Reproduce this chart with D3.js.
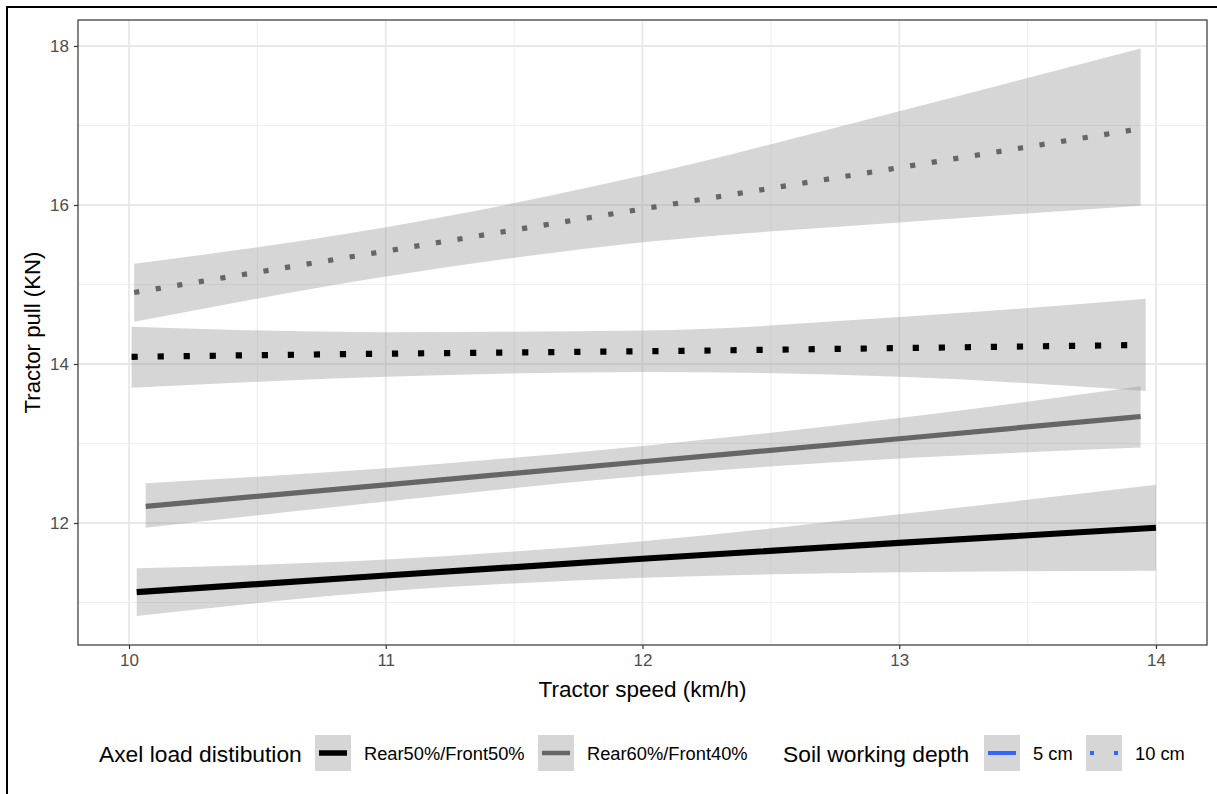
<!DOCTYPE html>
<html>
<head>
<meta charset="utf-8">
<script src="https://cdn.jsdelivr.net/npm/d3@7"></script>
<style>
  body { margin: 0; background: #fff; }
  svg { display: block; font-family: "Liberation Sans", Arial, sans-serif; }
</style>
</head>
<body>
<svg id="chart"></svg>
<script>
const width = 1217;
const height = 794;
const margin = { left: 78, right: 10, top: 20, bottom: 149 };

const xTicks = [10, 11, 12, 13, 14];
const yTicks = [12, 14, 16, 18];
const xMinor = [10.5, 11.5, 12.5, 13.5];
const yMinor = [11, 13, 15, 17];

const loadGroups = ["Rear50%/Front50%", "Rear60%/Front40%"];
const depthGroups = ["5 cm", "10 cm"];

// Rear50/Front50, 5 cm
const r50d5Speed = [10.03, 11, 12, 13, 14.0];
const r50d5Fit   = [11.13, 11.34, 11.55, 11.75, 11.94];
const r50d5Low   = [10.83, 11.14, 11.31, 11.38, 11.40];
const r50d5High  = [11.43, 11.54, 11.77, 12.11, 12.48];

// Rear60/Front40, 5 cm
const r60d5Speed = [10.065, 11, 12, 13, 13.94];
const r60d5Fit   = [12.21, 12.48, 12.77, 13.06, 13.34];
const r60d5Low   = [11.94, 12.27, 12.59, 12.81, 12.95];
const r60d5High  = [12.50, 12.69, 12.97, 13.32, 13.72];

// Rear50/Front50, 10 cm
const r50d10Speed = [10.01, 11, 12, 13, 13.96];
const r50d10Fit   = [14.09, 14.13, 14.16, 14.20, 14.24];
const r50d10Low   = [13.70, 13.84, 13.90, 13.84, 13.66];
const r50d10High  = [14.47, 14.40, 14.42, 14.59, 14.82];

// Rear60/Front40, 10 cm
const r60d10Speed = [10.02, 11, 12, 13, 13.94];
const r60d10Fit   = [14.90, 15.42, 15.95, 16.47, 16.96];
const r60d10Low   = [14.53, 15.10, 15.53, 15.78, 15.99];
const r60d10High  = [15.26, 15.72, 16.37, 17.18, 17.97];

const series = [
  { load: 0, depth: 0, speed: r50d5Speed, fit: r50d5Fit, low: r50d5Low, high: r50d5High },
  { load: 1, depth: 0, speed: r60d5Speed, fit: r60d5Fit, low: r60d5Low, high: r60d5High },
  { load: 0, depth: 1, speed: r50d10Speed, fit: r50d10Fit, low: r50d10Low, high: r50d10High },
  { load: 1, depth: 1, speed: r60d10Speed, fit: r60d10Fit, low: r60d10Low, high: r60d10High }
];

const loadColor = ["#000000", "#666666"];
const loadWidth = [6.2, 5.2];

const svg = d3.select("#chart")
  .attr("width", width)
  .attr("height", height);

// outer frame
svg.append("rect")
  .attr("x", 7).attr("y", 7)
  .attr("width", width + 10).attr("height", height + 10)
  .attr("fill", "none").attr("stroke", "#000").attr("stroke-width", 2);

const x = d3.scaleLinear().domain([10, 14]).range([129, 1156]);
const y = d3.scaleLinear().domain([12, 18]).range([523, 46]);

const panel = { x0: margin.left, x1: width - margin.right, y0: margin.top, y1: height - margin.bottom };

const g = svg.append("g");

// grid
g.selectAll(".ymin").data(yMinor).enter().append("line")
  .attr("x1", panel.x0).attr("x2", panel.x1)
  .attr("y1", d => y(d)).attr("y2", d => y(d))
  .attr("stroke", "#ebebeb").attr("stroke-width", 0.9);
g.selectAll(".xmin").data(xMinor).enter().append("line")
  .attr("y1", panel.y0).attr("y2", panel.y1)
  .attr("x1", d => x(d)).attr("x2", d => x(d))
  .attr("stroke", "#ebebeb").attr("stroke-width", 0.9);
g.selectAll(".ymaj").data(yTicks).enter().append("line")
  .attr("x1", panel.x0).attr("x2", panel.x1)
  .attr("y1", d => y(d)).attr("y2", d => y(d))
  .attr("stroke", "#e8e8e8").attr("stroke-width", 1.8);
g.selectAll(".xmaj").data(xTicks).enter().append("line")
  .attr("y1", panel.y0).attr("y2", panel.y1)
  .attr("x1", d => x(d)).attr("x2", d => x(d))
  .attr("stroke", "#e8e8e8").attr("stroke-width", 1.8);

const area = d3.area()
  .x(d => x(d[0])).y0(d => y(d[1])).y1(d => y(d[2]))
  .curve(d3.curveMonotoneX);
const line = d3.line()
  .x(d => x(d[0])).y(d => y(d[1]))
  .curve(d3.curveMonotoneX);

series.forEach(s => {
  const pts = s.speed.map((v, i) => [v, s.low[i], s.high[i], s.fit[i]]);
  g.append("path")
    .attr("d", area(pts))
    .attr("fill", "#999999").attr("fill-opacity", 0.4);
  const w = loadWidth[s.load];
  g.append("path")
    .attr("d", line(pts.map(p => [p[0], p[3]])))
    .attr("fill", "none")
    .attr("stroke", loadColor[s.load])
    .attr("stroke-width", w)
    .attr("stroke-dasharray", s.depth === 1 ? `${w} ${w * 3.2}` : null);
});

// panel border
svg.append("rect")
  .attr("x", panel.x0).attr("y", panel.y0)
  .attr("width", panel.x1 - panel.x0).attr("height", panel.y1 - panel.y0)
  .attr("fill", "none").attr("stroke", "#333333").attr("stroke-width", 1.2);

// axes
const xAxis = svg.append("g")
  .attr("transform", `translate(0,${panel.y1})`)
  .call(d3.axisBottom(x).tickValues(xTicks).tickSize(4).tickPadding(5).tickFormat(d3.format("d")));
const yAxis = svg.append("g")
  .attr("transform", `translate(${panel.x0},0)`)
  .call(d3.axisLeft(y).tickValues(yTicks).tickSize(4).tickPadding(5).tickFormat(d3.format("d")));
[xAxis, yAxis].forEach(a => {
  a.select(".domain").remove();
  a.selectAll(".tick line").attr("stroke", "#333333").attr("stroke-width", 1.2);
  a.selectAll(".tick text").attr("fill", "#4d4d4d")
    .style("font-size", "17px").style("font-family", "Liberation Sans, Arial, sans-serif");
});

svg.append("text")
  .attr("x", (panel.x0 + panel.x1) / 2).attr("y", 697)
  .attr("text-anchor", "middle").attr("font-size", 22.5)
  .text("Tractor speed (km/h)");
svg.append("text")
  .attr("transform", `translate(40,${(panel.y0 + panel.y1) / 2}) rotate(-90)`)
  .attr("text-anchor", "middle").attr("font-size", 22.2)
  .text("Tractor pull (KN)");

// legend
const leg = svg.append("g");
const keyY = 735, keySize = 36;
leg.append("text").attr("x", 99).attr("y", 762).attr("font-size", 22.8)
  .text("Axel load distibution");
const loadKeys = [315, 538];
loadGroups.forEach((name, i) => {
  leg.append("rect").attr("x", loadKeys[i]).attr("y", keyY)
    .attr("width", keySize).attr("height", keySize).attr("fill", "#d6d6d6");
  leg.append("line")
    .attr("x1", loadKeys[i] + 4).attr("x2", loadKeys[i] + keySize - 4)
    .attr("y1", keyY + keySize / 2).attr("y2", keyY + keySize / 2)
    .attr("stroke", loadColor[i]).attr("stroke-width", i === 0 ? 5.5 : 4.5);
  leg.append("text").attr("x", loadKeys[i] + 49).attr("y", 760)
    .attr("font-size", 18.3).text(name);
});

leg.append("text").attr("x", 783).attr("y", 762).attr("font-size", 22.8)
  .text("Soil working depth");
const depthKeys = [984, 1086];
depthGroups.forEach((name, i) => {
  leg.append("rect").attr("x", depthKeys[i]).attr("y", keyY)
    .attr("width", keySize).attr("height", keySize).attr("fill", "#d6d6d6");
  leg.append("line")
    .attr("x1", depthKeys[i] + 4).attr("x2", depthKeys[i] + keySize - 4)
    .attr("y1", keyY + keySize / 2).attr("y2", keyY + keySize / 2)
    .attr("stroke", "#3366ff").attr("stroke-width", 4)
    .attr("stroke-dasharray", i === 1 ? "4 20" : null);
  leg.append("text").attr("x", depthKeys[i] + 49).attr("y", 760)
    .attr("font-size", 18.3).text(name);
});
</script>
</body>
</html>
